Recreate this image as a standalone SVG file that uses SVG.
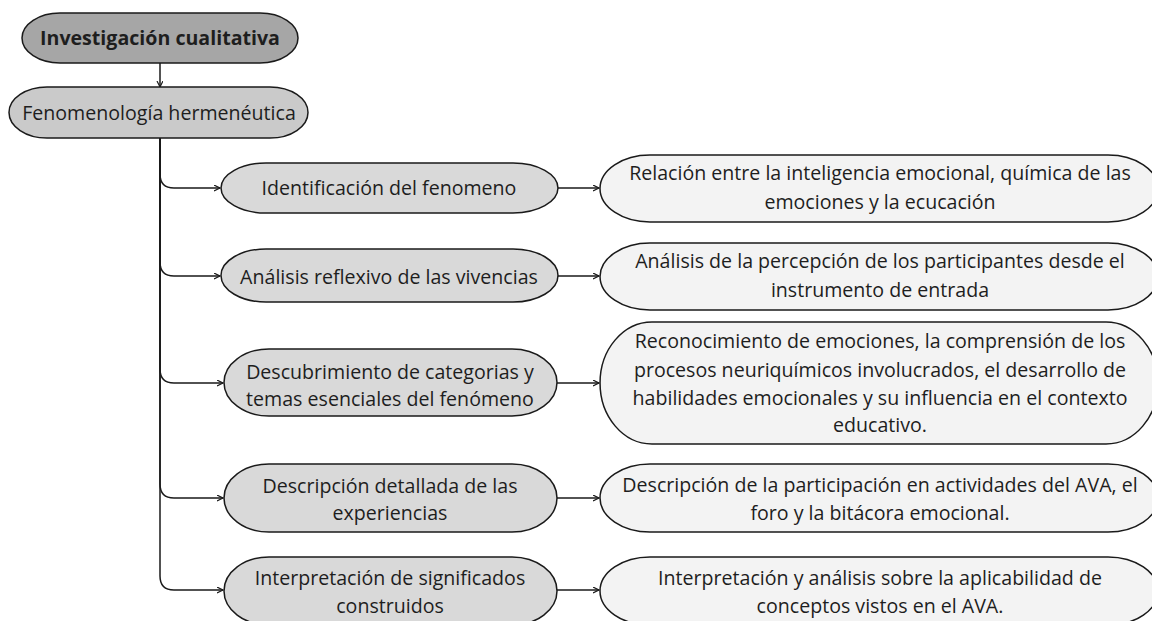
<svg xmlns="http://www.w3.org/2000/svg" width="1152" height="621" viewBox="0 0 1152 621">
<defs>
<marker id="arr" markerWidth="8" markerHeight="8" refX="6" refY="3" orient="auto" markerUnits="userSpaceOnUse">
<path d="M0,0 L6,3 L0,6" fill="none" stroke="#1a1a1a" stroke-width="1.2"/>
</marker>
<style>
.n{stroke:#1a1a1a;stroke-width:1.5}
.top{fill:#a6a6a6}
.l1{fill:#cacaca}
.l2{fill:#d9d9d9}
.l3{fill:#f3f3f3}
text{font-family:"Open Sans","Noto Sans","Liberation Sans",sans-serif;font-size:19.6px;fill:#1e1e1e;text-anchor:middle}
.b{font-weight:bold}
.c{fill:none;stroke:#1a1a1a;stroke-width:1.5}
</style>
</defs>
<rect width="1152" height="621" fill="#ffffff"/>
<g id="connectors">
<path class="c" d="M160 63 V87" marker-end="url(#arr)"/>
<path class="c" d="M160 138 V174 Q160 188 174 188 H220" marker-end="url(#arr)"/>
<path class="c" d="M160 138 V262 Q160 276 174 276 H220" marker-end="url(#arr)"/>
<path class="c" d="M160 138 V369 Q160 383 174 383 H223" marker-end="url(#arr)"/>
<path class="c" d="M160 138 V484 Q160 498 174 498 H223" marker-end="url(#arr)"/>
<path class="c" d="M160 138 V576 Q160 590 174 590 H223" marker-end="url(#arr)"/>
<path class="c" d="M558 188 H599" marker-end="url(#arr)"/>
<path class="c" d="M558 276 H599" marker-end="url(#arr)"/>
<path class="c" d="M557 383 H599" marker-end="url(#arr)"/>
<path class="c" d="M557 498 H599" marker-end="url(#arr)"/>
<path class="c" d="M557 590 H599" marker-end="url(#arr)"/>
</g>
<g id="n-investigacion">
<path class="n top" d="M60 13 H260 A38 25 0 0 1 260 63 H60 A38 25 0 0 1 60 13 Z"/>
<text class="b" x="160" y="45">Investigación cualitativa</text>
</g>
<g id="n-fenomenologia">
<path class="n l1" d="M47 87 H270 A38 25.5 0 0 1 270 138 H47 A38 25.5 0 0 1 47 87 Z"/>
<text x="159" y="120">Fenomenología hermenéutica</text>
</g>
<g id="n-identificacion">
<path class="n l2" d="M266 163 H513 A45 25 0 0 1 513 213 H266 A45 25 0 0 1 266 163 Z"/>
<text x="389" y="195">Identificación del fenomeno</text>
</g>
<g id="n-analisis">
<path class="n l2" d="M266 249 H513 A45 26.5 0 0 1 513 302 H266 A45 26.5 0 0 1 266 249 Z"/>
<text x="389" y="284">Análisis reflexivo de las vivencias</text>
</g>
<g id="n-descubrimiento">
<path class="n l2" d="M269 349 H512 A45 33.5 0 0 1 512 416 H269 A45 33.5 0 0 1 269 349 Z"/>
<text x="390" y="379">Descubrimiento de categorias y</text>
<text x="390" y="406">temas esenciales del fenómeno</text>
</g>
<g id="n-descripcion">
<path class="n l2" d="M269 464 H512 A45 34 0 0 1 512 532 H269 A45 34 0 0 1 269 464 Z"/>
<text x="390" y="493">Descripción detallada de las</text>
<text x="390" y="520">experiencias</text>
</g>
<g id="n-interpretacion">
<path class="n l2" d="M269 557 H512 A45 34 0 0 1 512 625 H269 A45 34 0 0 1 269 557 Z"/>
<text x="390" y="585">Interpretación de significados</text>
<text x="390" y="613">construidos</text>
</g>
<g id="r-relacion">
<path class="n l3" d="M650 155 H1108 A50 33.5 0 0 1 1108 222 H650 A50 33.5 0 0 1 650 155 Z"/>
<text x="880" y="180">Relación entre la inteligencia emocional, química de las</text>
<text x="880" y="209">emociones y la ecucación</text>
</g>
<g id="r-analisis">
<path class="n l3" d="M650 243 H1108 A50 33.5 0 0 1 1108 310 H650 A50 33.5 0 0 1 650 243 Z"/>
<text x="880" y="268">Análisis de la percepción de los participantes desde el</text>
<text x="880" y="297">instrumento de entrada</text>
</g>
<g id="r-reconocimiento">
<path class="n l3" d="M652 322 H1106 A52 61 0 0 1 1106 444 H652 A52 61 0 0 1 652 322 Z"/>
<text x="880" y="348">Reconocimiento de emociones, la comprensión de los</text>
<text x="880" y="377">procesos neuriquímicos involucrados, el desarrollo de</text>
<text x="880" y="405">habilidades emocionales y su influencia en el contexto</text>
<text x="880" y="432">educativo.</text>
</g>
<g id="r-descripcion">
<path class="n l3" d="M650 464 H1108 A50 34 0 0 1 1108 532 H650 A50 34 0 0 1 650 464 Z"/>
<text x="880" y="492">Descripción de la participación en actividades del AVA, el</text>
<text x="880" y="520">foro y la bitácora emocional.</text>
</g>
<g id="r-interpretacion">
<path class="n l3" d="M650 557 H1108 A50 34 0 0 1 1108 625 H650 A50 34 0 0 1 650 557 Z"/>
<text x="880" y="585">Interpretación y análisis sobre la aplicabilidad de</text>
<text x="880" y="613">conceptos vistos en el AVA.</text>
</g>
</svg>
